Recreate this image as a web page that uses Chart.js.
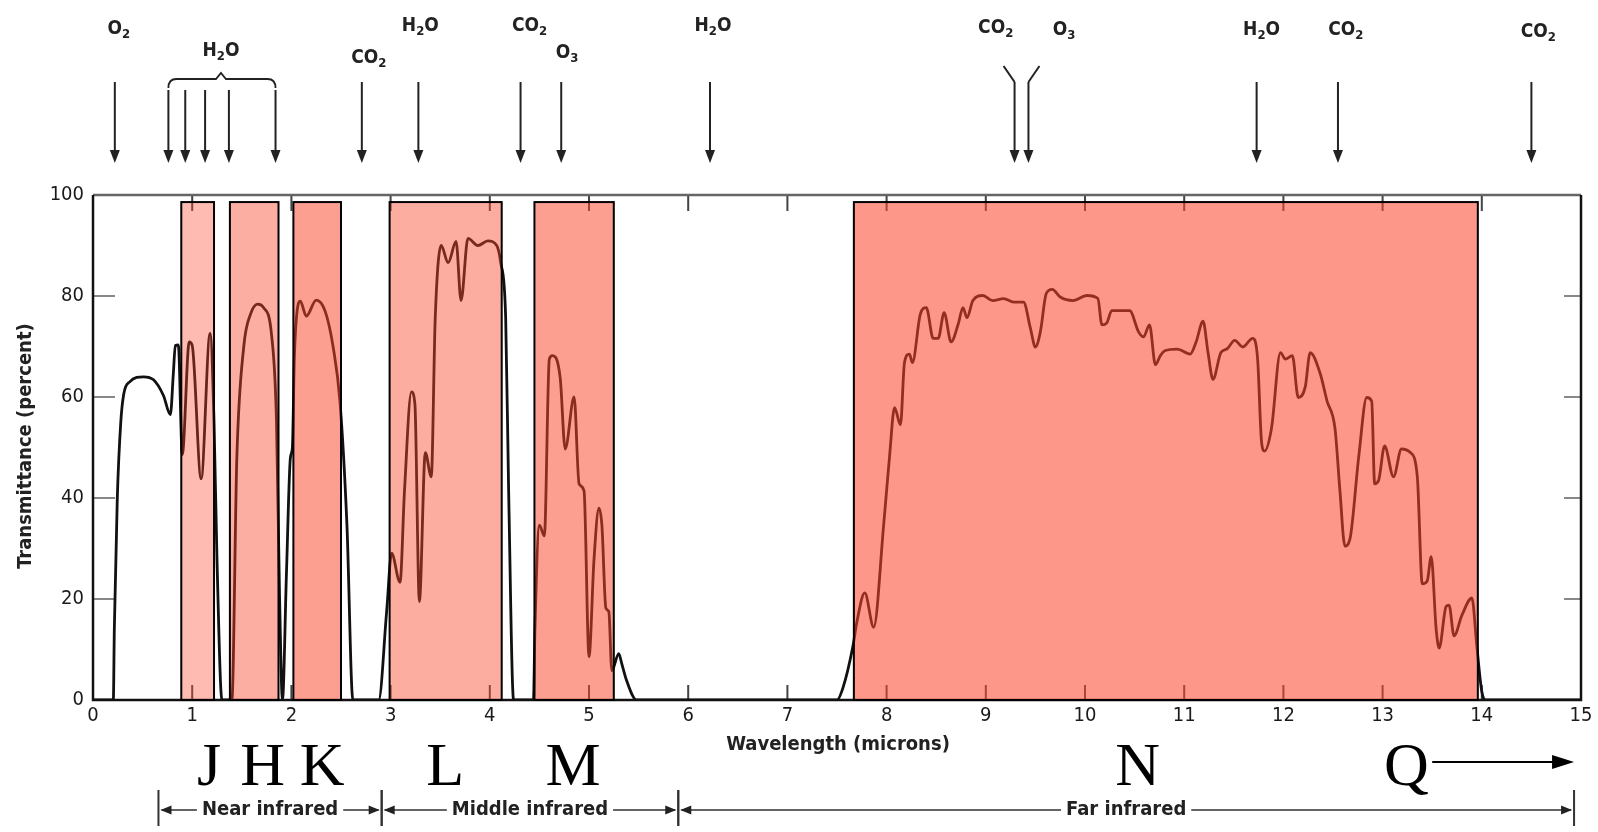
<!DOCTYPE html>
<html>
<head>
<meta charset="utf-8">
<script src="https://cdn.jsdelivr.net/npm/chart.js@4.4.0/dist/chart.umd.min.js"></script>
<style>
html, body { margin: 0; padding: 0; background: #fff; }
#chart { display: block; }
</style>
</head>
<body>
<canvas id="chart" width="1598" height="832"></canvas>
<script>
// atmospheric transmittance (microns, percent)
var wavelength = [
  0, 0.205, 0.215, 0.245, 0.28, 0.31, 0.37, 0.51, 0.61, 0.71, 0.78, 0.81, 0.83, 0.86, 0.90, 0.97, 1.0, 1.09, 1.18, 1.22, 1.25, 1.30,
  1.40, 1.45, 1.52, 1.59, 1.66, 1.72, 1.80, 1.85, 1.88, 1.91,
  1.95, 1.99, 2.01, 2.03, 2.07, 2.09, 2.15, 2.25, 2.34, 2.42, 2.49, 2.56, 2.62,
  2.88, 2.96, 3.01, 3.095, 3.14, 3.21, 3.245, 3.29, 3.35, 3.41, 3.45, 3.51, 3.58, 3.66, 3.71, 3.78, 3.88, 3.98, 4.07, 4.11, 4.16, 4.19, 4.24,
  4.44, 4.455, 4.50, 4.55, 4.60, 4.63, 4.71, 4.76, 4.85, 4.90, 4.95, 5.0, 5.05, 5.10, 5.13, 5.17, 5.2, 5.23, 5.30, 5.33, 5.38, 5.48,
  7.50, 7.56, 7.66, 7.70, 7.78, 7.87, 7.97, 8.03, 8.08, 8.14, 8.18, 8.23, 8.26, 8.34, 8.40, 8.47, 8.52, 8.58, 8.65, 8.72, 8.77, 8.81, 8.87, 8.97,
  9.07, 9.18, 9.28, 9.38, 9.45, 9.50, 9.55, 9.61, 9.67, 9.75, 9.88, 10.02, 10.13, 10.17, 10.22, 10.27, 10.45, 10.54, 10.59, 10.65, 10.71, 10.76,
  10.81, 10.93, 11.06, 11.12, 11.19, 11.24, 11.29, 11.37, 11.43, 11.51, 11.59, 11.69, 11.74, 11.78, 11.81, 11.88, 11.97, 12.02, 12.09, 12.15,
  12.22, 12.27, 12.37, 12.44, 12.52, 12.57, 12.62, 12.67, 12.76, 12.84, 12.89, 12.92, 12.96, 13.02, 13.11, 13.19, 13.28, 13.35, 13.40, 13.45,
  13.49, 13.54, 13.57, 13.64, 13.67, 13.72, 13.80, 13.90, 13.95, 14.0, 14.04, 15
];
var transmittance = [
  0, 0, 14, 40, 55, 60.6, 63, 64, 63.4, 60.3, 56.5, 64.7, 70.2, 70.3, 48.6, 70.9, 70.2, 43.8, 72.6, 55, 27.7, 0,
  0, 48, 70, 76.5, 78.4, 77.7, 72.3, 55, 21, 0,
  25, 48, 50, 68, 78.5, 79, 76, 79.2, 77, 70, 59, 34.6, 0,
  0, 17.5, 29.1, 23.3, 41.4, 61, 58.6, 19.5, 49, 44.2, 75.7, 90, 86.6, 90.8, 79.1, 91.4, 90, 90.9, 90, 86.6, 75.7, 41.4, 0,
  0, 14, 34.6, 32.5, 67.5, 68.2, 63.7, 49.7, 60, 42.8, 41.4, 8.6, 27.7, 38, 34.6, 18.2, 17.5, 5.8, 9.2, 7.2, 3.8, 0,
  0, 2.4, 10.6, 15.4, 21.2, 14.4, 34.6, 48.3, 57.9, 54.5, 66.8, 68.5, 66.8, 76.4, 77.7, 71.6, 71.6, 76.7, 70.9, 74.3, 77.7, 75.7, 79.1, 80.1,
  79.1, 79.5, 78.8, 78.8, 73.6, 69.9, 72.9, 80.5, 81.3, 79.8, 79.1, 80.1, 79.5, 74.3, 74.7, 77.1, 77.1, 72.9, 71.9, 74.3, 66.4, 68.2,
  69.2, 69.5, 68.5, 70.9, 75, 68.8, 63.5, 68.8, 69.5, 71.2, 69.9, 71.6, 67.5, 51, 49.3, 53.8, 68.8, 67.5, 68.2, 59.9,
  62, 68.8, 64.7, 59.2, 53.8, 41.4, 30.5, 31.8, 48.3, 59.9, 59.2, 42.8, 43.5, 50.3, 44.2, 49.7, 49, 44.2, 23, 23.6,
  28.4, 14, 10.3, 18.5, 18.8, 12.7, 16.8, 20.2, 10.6, 1.7, 0, 0
];

// photometric bands (shaded boxes)
var bandNames = ['J', 'H', 'K', 'L', 'M', 'N'];
var bandStart = [0.89, 1.38, 2.02, 2.99, 4.45, 7.67];
var bandEnd = [1.22, 1.87, 2.50, 4.12, 5.25, 13.96];
var bandTop = 98.6;
var bandColors = ['rgba(250,70,45,0.37)', 'rgba(250,70,45,0.44)', 'rgba(250,70,45,0.52)',
                  'rgba(250,70,45,0.45)', 'rgba(250,70,45,0.52)', 'rgba(250,70,45,0.56)'];

// band letters under the axis
var letterNames = ['J', 'H', 'K', 'L', 'M', 'N', 'Q'];
var letterAt = [1.17, 1.71, 2.31, 3.55, 4.84, 10.53, 13.24];
var qArrowFrom = 13.50, qArrowTo = 14.93;

// absorbers above the plot
var absorberArrows = [0.22, 0.76, 0.93, 1.13, 1.37, 1.84, 2.71, 3.28, 4.31, 4.72, 6.22, 11.73, 12.55, 14.50];
var waterGroup = [0.76, 1.84];
var pairArrows = [9.29, 9.43];
var absorberNames = ['O2', 'H2O', 'CO2', 'H2O', 'CO2', 'O3', 'H2O', 'CO2', 'O3', 'H2O', 'CO2', 'CO2'];
var absorberLabelAt = [0.26, 1.29, 2.78, 3.30, 4.40, 4.78, 6.25, 9.10, 9.79, 11.78, 12.63, 14.57];
var absorberLabelRow = [29, 51, 58, 26, 26, 53, 26, 28, 30, 30, 30, 32];

// spectral regions
var regionNames = ['Near infrared', 'Middle infrared', 'Far infrared'];
var regionStart = [0.66, 2.91, 5.90];
var regionEnd = [2.91, 5.90, 14.93];

var sansFont = "'DejaVu Sans Condensed', 'Liberation Sans Narrow', 'DejaVu Sans', sans-serif";
var serifFont = "'Liberation Serif', 'DejaVu Serif', serif";

var points = wavelength.map(function (w, i) {
  return { x: w, y: transmittance[i] };
});

function chem(ctx, text, x, y, size) {
  var parts = text.match(/[A-Za-z]+|[0-9]+/g);
  var big = 'bold ' + size + 'px ' + sansFont;
  var small = 'bold ' + Math.round(size * 0.7) + 'px ' + sansFont;
  var w = 0;
  parts.forEach(function (p) {
    ctx.font = /\d/.test(p) ? small : big;
    w += ctx.measureText(p).width;
  });
  var cx = x - w / 2;
  ctx.textAlign = 'left';
  ctx.textBaseline = 'middle';
  parts.forEach(function (p) {
    var sub = /\d/.test(p);
    ctx.font = sub ? small : big;
    ctx.fillText(p, cx, sub ? y + size * 0.3 : y);
    cx += ctx.measureText(p).width;
  });
}

function downArrow(ctx, x, y0, y1) {
  ctx.beginPath();
  ctx.moveTo(x, y0);
  ctx.lineTo(x, y1 - 8);
  ctx.stroke();
  ctx.beginPath();
  ctx.moveTo(x - 5, y1 - 13);
  ctx.lineTo(x + 5, y1 - 13);
  ctx.lineTo(x, y1);
  ctx.closePath();
  ctx.fill();
}

function headAt(ctx, x, y, dir) {
  ctx.beginPath();
  ctx.moveTo(x, y);
  ctx.lineTo(x - dir * 11, y - 4.5);
  ctx.lineTo(x - dir * 11, y + 4.5);
  ctx.closePath();
  ctx.fill();
}

var framePlugin = {
  id: 'frame',
  beforeDatasetsDraw: function (chart) {
    var ctx = chart.ctx, a = chart.chartArea;
    var xs = chart.scales.x, ys = chart.scales.y;
    ctx.save();
    ctx.strokeStyle = '#444';
    ctx.lineWidth = 2;
    xs.ticks.forEach(function (t) {
      if (t.value <= xs.min || t.value >= xs.max) return;
      var px = xs.getPixelForValue(t.value);
      ctx.beginPath();
      ctx.moveTo(px, a.top); ctx.lineTo(px, a.top + 16);
      ctx.moveTo(px, a.bottom); ctx.lineTo(px, a.bottom - 15);
      ctx.stroke();
    });
    ctx.strokeStyle = '#888';
    ys.ticks.forEach(function (t) {
      if (t.value <= ys.min || t.value >= ys.max) return;
      var py = ys.getPixelForValue(t.value);
      ctx.beginPath();
      ctx.moveTo(a.left, py); ctx.lineTo(a.left + 22, py);
      ctx.moveTo(a.right, py); ctx.lineTo(a.right - 17, py);
      ctx.stroke();
    });
    ctx.strokeStyle = '#666';
    ctx.lineWidth = 2.5;
    ctx.beginPath();
    ctx.moveTo(a.left, a.top); ctx.lineTo(a.right, a.top);
    ctx.stroke();
    ctx.strokeStyle = '#111';
    ctx.beginPath();
    ctx.moveTo(a.left, a.top); ctx.lineTo(a.left, a.bottom);
    ctx.lineTo(a.right, a.bottom); ctx.lineTo(a.right, a.top);
    ctx.stroke();
    ctx.restore();
  },
  afterDatasetsDraw: function (chart) {
    var ctx = chart.ctx;
    var xs = chart.scales.x, ys = chart.scales.y;
    ctx.save();
    bandNames.forEach(function (n, i) {
      var x0 = xs.getPixelForValue(bandStart[i]);
      var x1 = xs.getPixelForValue(bandEnd[i]);
      var y0 = ys.getPixelForValue(bandTop);
      var y1 = ys.getPixelForValue(0);
      ctx.fillStyle = bandColors[i];
      ctx.fillRect(x0, y0, x1 - x0, y1 - y0);
      ctx.strokeStyle = '#000';
      ctx.lineWidth = 2;
      ctx.strokeRect(x0, y0, x1 - x0, y1 - y0);
    });
    ctx.restore();
  },
  afterDraw: function (chart) {
    var ctx = chart.ctx;
    var xs = chart.scales.x;
    ctx.save();

    // axis titles
    ctx.fillStyle = '#222';
    ctx.font = 'bold 20px ' + sansFont;
    ctx.textAlign = 'center';
    ctx.textBaseline = 'middle';
    ctx.fillText('Wavelength (microns)', 838, 745);
    ctx.save();
    ctx.translate(26, 446);
    ctx.rotate(-Math.PI / 2);
    ctx.fillText('Transmittance (percent)', 0, 0);
    ctx.restore();

    // absorber arrows
    ctx.strokeStyle = '#222';
    ctx.fillStyle = '#222';
    ctx.lineWidth = 2;
    absorberArrows.forEach(function (w) {
      var inGroup = w >= waterGroup[0] && w <= waterGroup[1];
      downArrow(ctx, xs.getPixelForValue(w), inGroup ? 90 : 82, 163);
    });
    // brace over the water group
    var g0 = xs.getPixelForValue(waterGroup[0]);
    var g1 = xs.getPixelForValue(waterGroup[1]);
    var gm = xs.getPixelForValue(absorberLabelAt[1]);
    ctx.lineWidth = 1.8;
    ctx.beginPath();
    ctx.moveTo(g0, 88);
    ctx.quadraticCurveTo(g0, 79, g0 + 8, 79);
    ctx.lineTo(gm - 5, 79);
    ctx.lineTo(gm, 73);
    ctx.lineTo(gm + 5, 79);
    ctx.lineTo(g1 - 8, 79);
    ctx.quadraticCurveTo(g1, 79, g1, 88);
    ctx.stroke();
    // flared pair (CO2 / O3)
    ctx.lineWidth = 2;
    pairArrows.forEach(function (w, i) {
      var px = xs.getPixelForValue(w);
      var dir = i === 0 ? -1 : 1;
      ctx.beginPath();
      ctx.moveTo(px + dir * 11, 66);
      ctx.lineTo(px, 82);
      ctx.stroke();
      downArrow(ctx, px, 82, 163);
    });
    absorberNames.forEach(function (n, i) {
      chem(ctx, n, xs.getPixelForValue(absorberLabelAt[i]), absorberLabelRow[i], 19);
    });

    // band letters
    ctx.fillStyle = '#000';
    ctx.font = '62px ' + serifFont;
    ctx.textAlign = 'center';
    ctx.textBaseline = 'alphabetic';
    letterNames.forEach(function (n, i) {
      ctx.fillText(n, xs.getPixelForValue(letterAt[i]), 785);
    });
    var q0 = xs.getPixelForValue(qArrowFrom), q1 = xs.getPixelForValue(qArrowTo);
    ctx.strokeStyle = '#000';
    ctx.lineWidth = 2;
    ctx.beginPath();
    ctx.moveTo(q0, 762); ctx.lineTo(q1 - 8, 762);
    ctx.stroke();
    ctx.beginPath();
    ctx.moveTo(q1, 762); ctx.lineTo(q1 - 22, 755); ctx.lineTo(q1 - 22, 769);
    ctx.closePath();
    ctx.fill();

    // spectral region bars
    var ry = 810;
    ctx.strokeStyle = '#333';
    ctx.fillStyle = '#222';
    ctx.font = 'bold 20px ' + sansFont;
    ctx.textBaseline = 'middle';
    regionNames.forEach(function (n, i) {
      var x0 = xs.getPixelForValue(regionStart[i]);
      var x1 = xs.getPixelForValue(regionEnd[i]);
      var xm = (x0 + x1) / 2;
      var tw = ctx.measureText(n).width;
      ctx.lineWidth = 1.5;
      ctx.beginPath();
      ctx.moveTo(x0 + 3, ry); ctx.lineTo(xm - tw / 2 - 5, ry);
      ctx.moveTo(xm + tw / 2 + 5, ry); ctx.lineTo(x1 - 3, ry);
      ctx.stroke();
      headAt(ctx, x0 + 2, ry, -1);
      headAt(ctx, x1 - 2, ry, 1);
      ctx.lineWidth = 2;
      ctx.beginPath();
      ctx.moveTo(x0, ry - 20); ctx.lineTo(x0, ry + 16);
      ctx.moveTo(x1, ry - 20); ctx.lineTo(x1, ry + 16);
      ctx.stroke();
      ctx.textAlign = 'center';
      ctx.fillText(n, xm, ry);
    });
    ctx.restore();
  }
};

var ctx = document.getElementById('chart');
var myChart = new Chart(ctx, {
  type: 'scatter',
  data: {
    datasets: [{
      label: 'Transmittance',
      data: points,
      showLine: true,
      borderColor: '#111',
      borderWidth: 2.8,
      pointRadius: 0,
      cubicInterpolationMode: 'monotone'
    }]
  },
  options: {
    responsive: false,
    animation: false,
    devicePixelRatio: 1,
    layout: {
      padding: { top: 195, right: 17, left: 0, bottom: 0 }
    },
    plugins: {
      legend: { display: false },
      tooltip: { enabled: false }
    },
    scales: {
      x: {
        type: 'linear',
        min: 0,
        max: 15,
        grid: { display: false, drawTicks: false },
        border: { display: false },
        ticks: {
          stepSize: 1,
          padding: 4,
          color: '#1a1a1a',
          font: { family: sansFont, size: 20 }
        },
        afterFit: function (scale) { scale.height = 132; }
      },
      y: {
        min: 0,
        max: 100,
        grid: { display: false, drawTicks: false },
        border: { display: false },
        ticks: {
          stepSize: 20,
          padding: 9,
          color: '#1a1a1a',
          font: { family: sansFont, size: 20 }
        },
        afterFit: function (scale) { scale.width = 93; }
      }
    }
  },
  plugins: [framePlugin]
});
</script>
</body>
</html>
